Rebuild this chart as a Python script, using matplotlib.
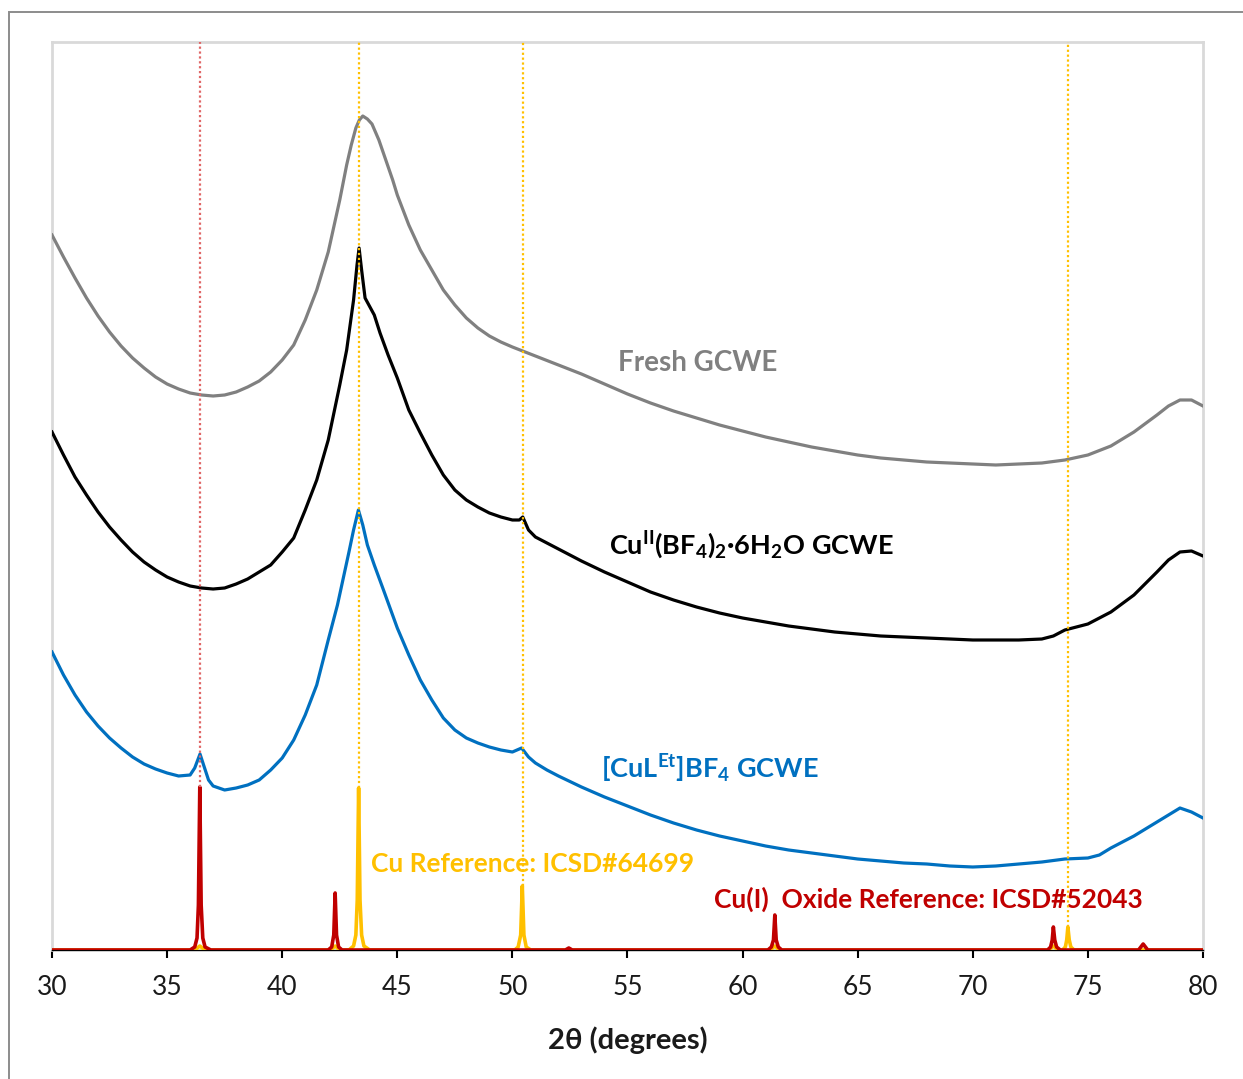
import matplotlib
matplotlib.use("Agg")
import matplotlib.pyplot as plt
from matplotlib.patches import Rectangle

plt.rcParams['font.family'] = ['Lato', 'DejaVu Sans']
plt.rcParams['mathtext.fontset'] = 'custom'
plt.rcParams['mathtext.rm'] = 'Lato'
plt.rcParams['mathtext.bf'] = 'Lato:bold'
plt.rcParams['mathtext.default'] = 'bf'

# ---------------- data (intensity in arbitrary, offset units) ----------------
fresh_x = [30, 30.5, 31, 31.5, 32, 32.5, 33, 33.5, 34, 34.5, 35, 35.5, 36, 36.5, 37, 37.5, 38, 38.5,
           39, 39.5, 40, 40.5, 41, 41.5, 42, 42.5, 42.8, 43.0, 43.2, 43.35, 43.5, 43.7, 43.9, 44.2,
           44.5, 44.8, 45, 45.5, 46, 46.5,
           47, 47.5, 48, 48.5, 49, 49.5, 50, 51, 52, 53, 54, 55, 56, 57, 58, 59, 60, 61, 62, 63, 64,
           65, 66, 67, 68, 69, 70, 71, 72, 73, 74, 75, 76, 77, 78, 78.5, 79, 79.5, 80]
fresh_y = [715, 693, 672, 652, 634, 618, 604, 592, 582, 573, 566, 561, 557, 555, 554, 555, 558, 563,
           569, 578, 590, 605, 630, 660, 698, 750, 785, 805, 822, 830, 834, 831, 826, 810,
           790, 770, 755, 725, 700, 680,
           660, 645, 632, 622, 614, 608, 603, 594, 585, 576, 566, 556, 547, 539, 532, 525, 519, 513,
           508, 503, 499, 495, 492, 490, 488, 487, 486, 485, 486, 487, 490, 495, 504, 518, 535, 544,
           550, 550, 544]

cu2_x = [30, 30.5, 31, 31.5, 32, 32.5, 33, 33.5, 34, 34.5, 35, 35.5, 36, 36.5, 37, 37.5, 38, 38.5,
         39, 39.5, 40, 40.5, 41, 41.5, 42, 42.5, 42.8, 43.1, 43.25, 43.34, 43.45, 43.6, 44, 44.25,
         44.6, 45, 45.5, 46, 46.5, 47, 47.5, 48, 48.5, 49, 49.5, 50, 50.3, 50.45, 50.7, 51, 51.5,
         52, 53, 54, 55, 56, 57, 58, 59, 60, 61, 62, 63, 64, 65, 66, 67, 68, 69, 70, 71, 72, 73,
         73.5, 74, 74.5, 75, 76, 77, 78, 78.5, 79, 79.5, 80]
cu2_y = [518, 495, 473, 455, 438, 423, 410, 398, 388, 380, 373, 368, 364, 362, 361, 362, 366, 371,
         378, 385, 398, 412, 440, 470, 510, 565, 600, 650, 685, 702, 680, 652, 635, 617,
         595, 572, 540, 517, 495, 475, 460, 450, 443, 437, 433, 430, 430, 433, 420, 413, 407,
         401, 389, 378, 368, 358, 350, 343, 337, 332, 328, 324, 321, 318, 316, 314, 313, 312,
         311, 310, 310, 310, 311, 314, 320, 323, 326, 338, 355, 378, 390, 398, 399, 394]

culet_x = [30, 30.5, 31, 31.5, 32, 32.5, 33, 33.5, 34, 34.5, 35, 35.5, 36, 36.2, 36.43, 36.6, 36.8,
           37, 37.5, 38, 38.5, 39, 39.5, 40, 40.5, 41, 41.5, 42, 42.4, 42.9, 43.1, 43.31, 43.5, 43.7,
           44, 44.4, 45, 45.5, 46, 46.5, 47, 47.5, 48, 48.5, 49, 49.5, 50, 50.4, 50.7, 51, 51.5, 52,
           53, 54, 55, 56, 57, 58, 59, 60, 61, 62, 63, 64, 65, 66, 67, 68, 69, 70, 71, 72, 73, 74,
           75, 75.5, 76, 77, 78, 78.5, 79, 79.5, 80]
culet_y = [298, 275, 255, 238, 224, 212, 202, 193, 186, 181, 177, 174, 175, 182, 196, 184, 170,
           164, 160, 162, 165, 170, 180, 192, 210, 235, 265, 310, 345, 398, 420, 440, 425, 405,
           385, 360, 322, 295, 270, 250, 232, 220, 212, 207, 203, 200, 198, 202, 193, 187, 180, 174,
           163, 153, 144, 135, 127, 120, 114, 109, 104, 100, 97, 94, 91, 89, 87, 86, 84, 83, 84, 86,
           88, 91, 92, 95, 102, 114, 128, 135, 142, 138, 132]

# Cu reference (ICSD#64699)
cu_ref_x = [30, 36.2, 36.42, 36.65, 42.1, 42.3, 42.5, 42.9, 43.1, 43.2, 43.26, 43.32, 43.38, 43.45,
            43.55, 43.8, 50.1, 50.25, 50.36, 50.43, 50.5, 50.6, 50.8, 61.2, 61.4, 61.6, 73.3, 73.5,
            73.7, 73.9, 74.02, 74.08, 74.13, 74.19, 74.26, 74.4, 80]
cu_ref_y = [0, 0, 4, 0, 0, 4, 0, 0, 4, 15, 50, 162, 50, 15,
            4, 0, 0, 3, 15, 64, 15, 3, 0, 0, 4, 0, 0, 4,
            0, 0, 3, 10, 23, 10, 3, 0, 0]

# Cu(I) oxide reference (ICSD#52043)
cu2o_ref_x = [30, 36.0, 36.2, 36.3, 36.36, 36.42, 36.48, 36.55, 36.65, 36.9, 42.0, 42.15, 42.24, 42.3,
              42.36, 42.45, 42.6, 52.3, 52.45, 52.6, 61.1, 61.25, 61.34, 61.4, 61.46, 61.55, 61.7,
              73.25, 73.38, 73.45, 73.5, 73.56, 73.64, 73.8, 77.2, 77.4, 77.6, 80]
cu2o_ref_y = [0, 0, 3, 12, 45, 163, 45, 12, 3, 0, 0, 3, 15, 57,
              15, 3, 0, 0, 2, 0, 0, 3, 10, 35, 10, 3, 0,
              0, 3, 10, 23, 10, 3, 0, 0, 6, 0, 0]

# reference marker lines (position, height of the reference peak)
cu2o_marker_x = [36.42]
cu2o_marker_top = [163]
cu_marker_x = [43.32, 50.45, 74.15]
cu_marker_top = [162, 64, 23]

xticks = [30, 35, 40, 45, 50, 55, 60, 65, 70, 75, 80]

GRAY = '#808080'
BLUE = '#0070c0'
RED = '#c00000'
YEL = '#ffc000'

# ---------------- figure ----------------
W, H = 1243, 1079
fig = plt.figure(figsize=(W / 100, H / 100), dpi=100)
fig.patches.append(Rectangle((8.5 / W, -0.01), 1.02, 1 - 11.5 / H + 0.01, transform=fig.transFigure,
                             fill=False, edgecolor='#8c8c8c', linewidth=1.4))

ax = fig.add_axes([52 / W, 1 - 950 / H, (1203 - 52) / W, (950 - 42) / H])
ax.set_xlim(30, 80)
ax.set_ylim(0, 908)

lw = 2.3
ax.plot(fresh_x, fresh_y, color=GRAY, lw=lw, zorder=3)
ax.plot(cu2_x, cu2_y, color='black', lw=lw, zorder=3)
ax.plot(culet_x, culet_y, color=BLUE, lw=lw, zorder=3)
ax.plot(cu_ref_x, cu_ref_y, color=YEL, lw=2.6, zorder=4, solid_joinstyle='round')
ax.plot(cu2o_ref_x, cu2o_ref_y, color=RED, lw=2.6, zorder=5, solid_joinstyle='round')

for xm, top in zip(cu2o_marker_x, cu2o_marker_top):
    ax.plot([xm, xm], [top, 908], color='#e06666', lw=1.6, ls=(0, (1, 1.2)), zorder=6)
for xm, top in zip(cu_marker_x, cu_marker_top):
    ax.plot([xm, xm], [top, 908], color=YEL, lw=1.6, ls=(0, (1, 1.2)), zorder=6)

for side in ['top', 'left', 'right']:
    ax.spines[side].set_color('#d9d9d9')
    ax.spines[side].set_linewidth(2)
ax.spines['bottom'].set_color('black')
ax.spines['bottom'].set_linewidth(1)

ax.set_yticks([])
ax.set_xticks(xticks)
ax.set_xticklabels([str(t) for t in xticks])
ax.tick_params(axis='x', direction='out', length=6, width=1.5, colors='black', pad=12,
               labelsize=19, labelcolor='#1a1a1a')
ax.set_xlabel('2θ (degrees)', fontsize=21, fontweight='bold', labelpad=19, color='#1a1a1a')


def px_to_data(px, py):
    return 30 + (px - 52) / 23.02, 950 - py


tx, ty = px_to_data(618, 371)
ax.text(tx, ty, 'Fresh GCWE', color=GRAY, fontsize=20, fontweight='bold', va='baseline')
tx, ty = px_to_data(609, 554)
ax.text(tx, ty, 'Cu$^{II}$(BF$_{4}$)$_{2}$·6H$_{2}$O GCWE', color='black', fontsize=19.5,
        fontweight='bold', va='baseline')
tx, ty = px_to_data(601, 778)
ax.text(tx, ty, '[CuL$^{Et}$]BF$_{4}$ GCWE', color=BLUE, fontsize=19.5, fontweight='bold',
        va='baseline')
tx, ty = px_to_data(371, 872)
ax.text(tx, ty, 'Cu Reference: ICSD#64699', color=YEL, fontsize=19, fontweight='bold', va='baseline')
tx, ty = px_to_data(714, 908)
ax.text(tx, ty, 'Cu(I)  Oxide Reference: ICSD#52043', color=RED, fontsize=19, fontweight='bold',
        va='baseline')

fig.savefig('out.png', dpi=100)
